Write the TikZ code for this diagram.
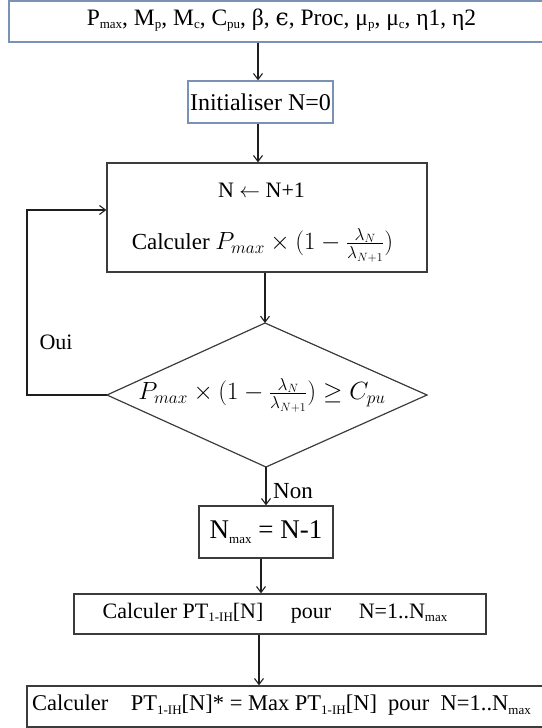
\documentclass[tikz,border=0pt]{standalone}
\usepackage{fontspec}
\setmainfont{Liberation Serif}
\newfontfamily\dejavu{DejaVu Serif}
\usetikzlibrary{arrows.meta}
\definecolor{blueborder}{RGB}{122,146,180}
\definecolor{darkborder}{RGB}{60,60,60}
\definecolor{arrowcol}{RGB}{30,30,30}
\newcommand\lowsub[1]{\raisebox{-0.35ex}{\fontsize{13}{13}\selectfont #1}}
\newcommand\fsz[1]{\fontsize{#1}{#1}\selectfont}
\begin{document}
\begin{tikzpicture}[x=1pt,y=-1pt,
  bluebox/.style={draw=blueborder,line width=1.2pt,inner sep=0pt,anchor=center},
  darkbox/.style={draw=darkborder,line width=1.2pt,inner sep=0pt,anchor=center},
  txt/.style={inner sep=0pt,anchor=center},
  arr/.style={draw=arrowcol,line width=1.1pt,-{Straight Barb[length=6pt,width=9pt]}},
  plainline/.style={draw=darkborder,line width=1.2pt}]
\useasboundingbox (0,0) rectangle (541,728);
% top box
\node[bluebox,minimum width=545pt,minimum height=41pt] (topbox) at (281.5,21.5) {};
\node[txt,font=\fsz{23.5}] (toptext) at (281.5,20) {P\lowsub{max}, M\lowsub{p}, M\lowsub{c}, C\lowsub{pu}, β, {\dejavu ϵ}, Proc, μ\lowsub{p}, μ\lowsub{c}, η1, η2};
% init box
\node[bluebox,minimum width=145pt,minimum height=42pt,font=\fsz{24}] (initbox) at (260.5,102) {Initialiser N=0};
% loop box
\node[darkbox,minimum width=320pt,minimum height=109pt] (loopbox) at (267,217.5) {};
\node[txt,font=\fsz{22}] (line1) at (261.5,190) {N $\leftarrow$ N+1};
\node[txt,font=\fsz{23}] (line2) at (262.5,245) {Calculer {\fsz{25.5}$P_{max}\times(1-\frac{\lambda_N}{\lambda_{N+1}})$}};
% diamond
\coordinate (dtop) at (265,323);
\coordinate (dleft) at (107,395);
\coordinate (dright) at (427,395);
\coordinate (dbot) at (266,467);
\draw[plainline] (dtop) -- (dright) -- (dbot) -- (dleft) -- cycle;
\node[txt,font=\fsz{25.5}] (cond) at (262,395) {$P_{max}\times(1-\frac{\lambda_N}{\lambda_{N+1}})\geq C_{pu}$};
% nmax box
\node[darkbox,minimum width=134pt,minimum height=52pt,font=\fsz{27}] (nmaxbox) at (266,532) {N\lowsub{max} = N-1};
% calc box
\node[darkbox,minimum width=412pt,minimum height=40pt] (calcbox) at (280,614) {};
\node[txt,font=\fsz{22}] (calctext) at (275,613) {Calculer PT\lowsub{1-IH}[N]\quad\ pour\quad\ N=1..N\lowsub{max}};
% final box
\node[darkbox,minimum width=533pt,minimum height=41pt] (finalbox) at (293.5,706.5) {};
\node[txt,font=\fsz{22.5}] (finaltext) at (281.5,705) {Calculer\quad PT\lowsub{1-IH}[N]* = Max PT\lowsub{1-IH}[N]\enspace pour\enspace N=1..N\lowsub{max}};
% labels
\node[txt,font=\fsz{22}] (oui) at (56,342) {Oui};
\node[txt,font=\fsz{23}] (non) at (293,491) {Non};
% connectors
\coordinate (a1) at ([xshift=-2.5pt]initbox.north);
\draw[arr] (a1 |- topbox.south) -- (a1);
\coordinate (a2) at ([xshift=-2.5pt]initbox.south);
\draw[arr] (a2) -- (a2 |- loopbox.north);
\draw[arr] (dtop |- loopbox.south) -- (dtop);
\draw[arr] (dbot) -- (dbot |- nmaxbox.north);
\coordinate (a5) at ([xshift=-5pt]nmaxbox.south);
\draw[arr] (a5) -- (a5 |- calcbox.north);
\coordinate (a6) at ([xshift=-21pt]calcbox.south);
\draw[arr] (a6) -- (a6 |- finalbox.north);
\coordinate (lc) at (27,395);
\coordinate (loopin) at ([yshift=7.5pt]loopbox.west);
\draw[arr] (dleft) -- (lc) |- (loopin);
\end{tikzpicture}
\end{document}
